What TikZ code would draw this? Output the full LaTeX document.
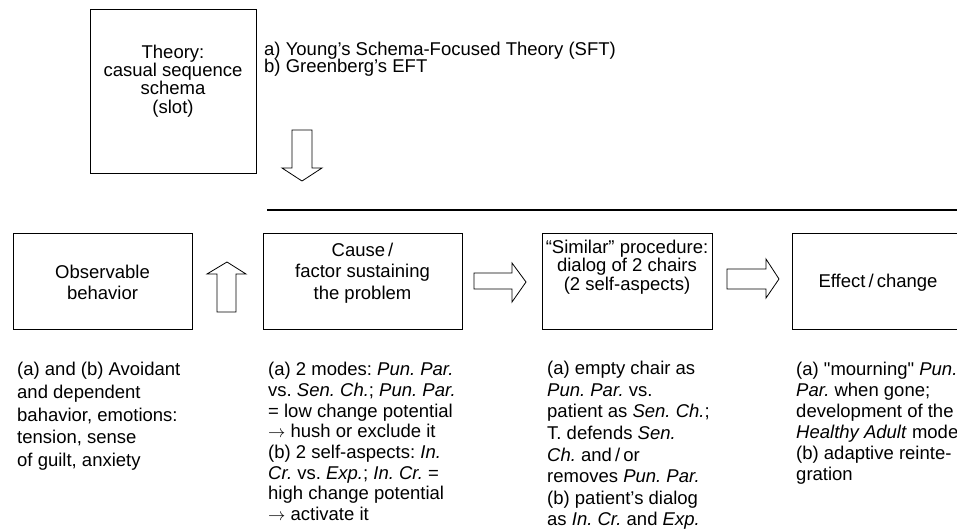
\documentclass[tikz,border=0pt]{standalone}
\usepackage{fontspec}
\setmainfont{Liberation Sans}
\usetikzlibrary{positioning}

\tikzset{
  stepbox/.style={draw, line width=0.8pt, inner sep=0pt},
  boxtxt/.style={inner sep=0pt, align=center, font=\fontsize{18.5}{#1}\selectfont},
  boxtxt/.default=21.5,
  notetxt/.style={inner sep=0pt, anchor=north west, align=left, font=\fontsize{18.5}{#1}\selectfont},
  notetxt/.default=22,
  blockarrow/.style={draw, line width=0.8pt, fill=white},
}
\newcommand{\ra}{$\rightarrow$}

\begin{document}
\frenchspacing
\begin{tikzpicture}[x=1pt, y=-1pt]
  \useasboundingbox (0,0) rectangle (957,528);
  \clip (0,0) rectangle (957,528);
  \lineskiplimit=-20pt

  % theory box and sources
  \node[stepbox, minimum width=166pt, minimum height=164pt] (theory) at (173,91) {};
  \node[boxtxt=18.3] (theorytxt) at ([yshift=10pt]theory.center)
    {Theory:\\casual sequence\\schema\\(slot)};
  \node[notetxt=17, anchor=base west] (sources) at (264,72)
    {a) Young’s Schema-Focused Theory (SFT)\\b) Greenberg’s EFT};

  \draw[blockarrow] (292,130) -- (312,130) -- (312,168) -- (322,168) -- (302,181)
    -- (282,168) -- (292,168) -- cycle;
  \draw[line width=2pt] (267,210) -- (957,210);

  % sequence of boxes
  \node[stepbox, minimum width=179pt, minimum height=96pt] (observ) at (102.5,281) {};
  \node[stepbox, minimum width=199pt, minimum height=96pt] (cause) at (362.5,281) {};
  \node[stepbox, minimum width=170pt, minimum height=96pt] (similar) at (627,281) {};
  \node[stepbox, minimum width=172pt, minimum height=96pt] (effect) at (878,281) {};

  \node[boxtxt=21] (observtxt) at ([yshift=-1pt]observ.center) {Observable\\behavior};
  \node[boxtxt=21.5] (causetxt) at ([yshift=8pt]cause.center)
    {Cause\,/\\factor sustaining\\the problem};
  \node[boxtxt=18.5] (similartxt) at ([yshift=14pt]similar.center)
    {“Similar” procedure:\\dialog of 2 chairs\\(2 self-aspects)};
  \node[boxtxt] (effecttxt) at ([yshift=-2pt]effect.center) {Effect\,/\,change};

  % block arrows between the boxes
  \draw[blockarrow] (217,312) -- (236,312) -- (236,274) -- (246,274) -- (227,262)
    -- (207,274) -- (217,274) -- cycle;
  \draw[blockarrow] (474,273) -- (512,273) -- (512,263) -- (526,282) -- (512,302)
    -- (512,289) -- (474,289) -- cycle;
  \draw[blockarrow] (727,269) -- (766,269) -- (766,259) -- (779,279) -- (766,298)
    -- (766,289) -- (727,289) -- cycle;

  % notes under the boxes
  \node[notetxt=22.7] (observnote) at (17,362)
    {(a) and (b) Avoidant\\and dependent\\bahavior, emotions:\\tension, sense\\of guilt, anxiety};
  \node[notetxt=20.7] (causenote) at (268,362)
    {(a) 2 modes: \textit{Pun. Par.}\\vs. \textit{Sen. Ch.}; \textit{Pun. Par.}\\= low change potential\\%
     \ra{} hush or exclude it\\(b) 2 self-aspects: \textit{In.}\\\textit{Cr.} vs. \textit{Exp.}; \textit{In. Cr.} =\\%
     high change potential\\\ra{} activate it};
  \node[notetxt=21.6] (similarnote) at (547,361)
    {(a) empty chair as\\\textit{Pun. Par.} vs.\\patient as \textit{Sen. Ch.};\\T. defends \textit{Sen.}\\%
     \textit{Ch.} and\,/\,or\\removes \textit{Pun. Par.}\\(b) patient’s dialog\\as \textit{In. Cr.} and \textit{Exp.}};
  \node[notetxt=21] (effectnote) at (796,362)
    {(a) \textquotedbl mourning\textquotedbl{} \textit{Pun.}\\\textit{Par.} when gone;\\development of the\\%
     \textit{Healthy Adult} mode\\(b) adaptive reinte-\\gration};
\end{tikzpicture}
\end{document}
